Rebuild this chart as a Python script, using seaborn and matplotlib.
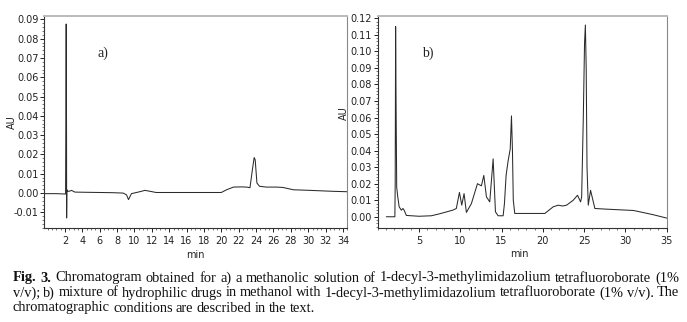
import numpy as np
import pandas as pd
import matplotlib
matplotlib.use("Agg")
import matplotlib.pyplot as plt
from matplotlib.ticker import MultipleLocator
import seaborn as sns

# Chromatogram a) - ionic liquid in methanol
time_a = [-0.37, 1.0, 2.08, 2.15, 2.19, 2.2, 2.23, 2.3, 2.49, 2.76, 3.15, 4.5, 6.03, 7.5,
          8.7, 9.09, 9.32, 9.45, 9.66, 10.24, 10.8, 11.2, 11.7, 12.5, 15.0, 17.5, 20.0,
          20.6, 21.4, 22.3, 22.9, 23.3, 23.55, 23.78, 23.9, 24.1, 24.4, 25.2, 26.35,
          27.1, 28.3, 30.2, 32.9, 34.5]
abs_a = [-0.0003, -0.0003, -0.0005, 0.0876, 0.030, -0.0129, 0.0017, 0.0010, 0.0009,
         0.0014, 0.0005, 0.0004, 0.0003, 0.0002, 0.0, -0.0009, -0.0034, -0.0022,
         -0.0003, 0.0003, 0.0009, 0.0014, 0.0010, 0.0003, 0.0003, 0.0003, 0.0003,
         0.0017, 0.0031, 0.0032, 0.0031, 0.0028, 0.0112, 0.0184, 0.0172, 0.0052,
         0.0035, 0.0031, 0.0031, 0.0029, 0.0017, 0.0014, 0.0009, 0.0007]

# Chromatogram b) - hydrophilic drugs with ionic liquid
time_b = [1.04, 2.08, 2.12, 2.17, 2.22, 2.3, 2.43, 2.6, 2.86, 3.06, 3.2, 3.47, 5.0,
          6.5, 7.5, 9.1, 9.52, 9.9, 10.18, 10.46, 10.74, 11.35, 12.08, 12.56, 12.85,
          13.17, 13.57, 13.98, 14.26, 14.58, 15.19, 15.35, 15.55, 15.8, 16.05, 16.2,
          16.32, 16.42, 16.6, 18.5, 20.24, 21.25, 21.86, 22.4, 22.87, 23.68, 24.2,
          24.57, 24.7, 24.9, 25.05, 25.15, 25.25, 25.35, 25.5, 25.78, 26.3, 27.7,
          30.97, 32.2, 33.4, 35.0]
abs_b = [0.0, 0.0, 0.02, 0.115, 0.072, 0.018, 0.012, 0.006, 0.004, 0.005, 0.004,
         0.0008, 0.0003, 0.0006, 0.0018, 0.004, 0.005, 0.0147, 0.007, 0.014, 0.0026,
         0.008, 0.020, 0.0187, 0.025, 0.012, 0.009, 0.035, 0.003, 0.0006, 0.0006,
         0.008, 0.025, 0.034, 0.041, 0.061, 0.040, 0.010, 0.002, 0.002, 0.002, 0.006,
         0.007, 0.0065, 0.007, 0.010, 0.013, 0.009, 0.012, 0.060, 0.105, 0.116, 0.090,
         0.030, 0.007, 0.016, 0.005, 0.0046, 0.0038, 0.0025, 0.0012, -0.0008]

caption_lines = [
    "Fig. 3. Chromatogram obtained for a) a methanolic solution of 1-decyl-3-methylimidazolium tetrafluoroborate (1%",
    "v/v); b) mixture of hydrophilic drugs in methanol with 1-decyl-3-methylimidazolium tetrafluoroborate (1% v/v). The",
    "chromatographic conditions are described in the text.",
]

df_a = pd.DataFrame({"min": time_a, "AU": abs_a})
df_b = pd.DataFrame({"min": time_b, "AU": abs_b})

sns.set_theme(style="ticks")
plt.rcParams["font.family"] = ["DejaVu Sans"]

W, H = 687, 322
fig = plt.figure(figsize=(W / 100, H / 100), dpi=100)


def px_axes(x0, y0, x1, y1):
    return fig.add_axes([x0 / W, 1 - y1 / H, (x1 - x0) / W, (y1 - y0) / H])


ax_a = px_axes(44.3, 15.7, 347.3, 228)
ax_b = px_axes(377.7, 15.7, 666.7, 228)

line_kw = dict(color="#2b2b2b", linewidth=0.75, sort=False, estimator=None)
sns.lineplot(data=df_a, x="min", y="AU", ax=ax_a, **line_kw)
sns.lineplot(data=df_b, x="min", y="AU", ax=ax_b, **line_kw)

ax_a.set_xlim(-0.37, 34.5)
ax_a.set_ylim(-0.0181, 0.0919)
ax_a.xaxis.set_minor_locator(MultipleLocator(0.5))
ax_a.yaxis.set_major_locator(MultipleLocator(0.01))
ax_a.yaxis.set_minor_locator(MultipleLocator(0.002))
ax_a.set_xticks(np.arange(2, 35, 2))

ax_b.set_xlim(0, 35)
ax_b.set_ylim(-0.0068, 0.1216)
ax_b.xaxis.set_minor_locator(MultipleLocator(1))
ax_b.yaxis.set_major_locator(MultipleLocator(0.01))
ax_b.yaxis.set_minor_locator(MultipleLocator(0.002))
ax_b.set_xticks(np.arange(5, 36, 5))

for ax in (ax_a, ax_b):
    ax.yaxis.set_major_formatter(plt.FuncFormatter(lambda v, p: f"{v:.2f}"))
    ax.tick_params(which="major", direction="out", length=3, width=0.7,
                   labelsize=7, pad=1.2, colors="#222222")
    ax.tick_params(which="minor", direction="out", length=1.5, width=0.5,
                   colors="#444444")
    ax.tick_params(axis="x", which="major", pad=2.5)
    for s in ("left", "bottom"):
        ax.spines[s].set_color("#333333")
        ax.spines[s].set_linewidth(0.8)
    ax.spines["top"].set_visible(True)
    ax.spines["right"].set_visible(True)
    ax.spines["top"].set_color("#bbbbbb")
    ax.spines["top"].set_linewidth(1.4)
    ax.spines["right"].set_color("#888888")
    ax.spines["right"].set_linewidth(0.8)
    ax.set_xlabel("min", fontsize=7, color="#222222")
    ax.set_ylabel("AU", fontsize=7, color="#222222")

ax_a.yaxis.set_label_coords(-0.092, 0.5)
ax_b.yaxis.set_label_coords(-0.098, 0.54)
ax_a.xaxis.set_label_coords(0.497, -0.105)
ax_b.xaxis.set_label_coords(0.489, -0.100)

ax_a.text(0.194, 0.824, "a)", transform=ax_a.transAxes, ha="center", va="center",
          fontsize=10, family="Liberation Serif", color="#222222")
ax_b.text(0.172, 0.824, "b)", transform=ax_b.transAxes, ha="center", va="center",
          fontsize=10, family="Liberation Serif", color="#222222")

# justified caption, word by word
cap_font = dict(fontsize=10.4, family="Liberation Serif", color="#111111", va="baseline")
left_px, right_px = 12.7, 679.0
baselines = [281.5, 296.5, 311.5]
renderer = fig.canvas.get_renderer()
for i, (line, base) in enumerate(zip(caption_lines, baselines)):
    words = line.split(" ")
    texts = []
    for j, w in enumerate(words):
        weight = "bold" if (i == 0 and j < 2) else "normal"
        t = fig.text(0, 1 - base / H, w, fontweight=weight, **cap_font)
        texts.append(t)
    widths = [t.get_window_extent(renderer).width for t in texts]
    if i < len(caption_lines) - 1:
        gap = (right_px - left_px - sum(widths)) / (len(words) - 1)
    else:
        gap = 3.3
    x = left_px
    for t, w in zip(texts, widths):
        t.set_x(x / W)
        x += w + gap

fig.savefig("out.png", dpi=100)
